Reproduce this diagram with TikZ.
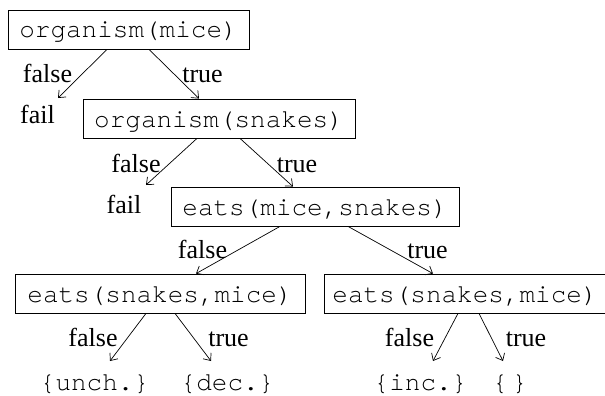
\documentclass[tikz,border=0pt]{standalone}
\usepackage{fontspec}
\setmainfont{Liberation Serif}
\setmonofont{TeX Gyre Cursor}
\usetikzlibrary{arrows.meta}
\begin{document}
\begin{tikzpicture}[x=1pt,y=-1pt,
  box/.style={draw, line width=0.8pt, inner sep=0pt, minimum height=39pt,
    text height=20pt, text depth=3pt, font=\fontsize{26}{30}\selectfont\ttfamily},
  lbl/.style={inner sep=0pt, anchor=base, font=\fontsize{26}{30}\selectfont},
  leaf/.style={inner sep=0pt, anchor=base, font=\fontsize{26}{30}\selectfont\ttfamily},
  arr/.style={-{Straight Barb[length=6pt,width=10pt]}, line width=0.7pt}]
\useasboundingbox (0,0) rectangle (605,396);
% boxes
\node[box, minimum width=241pt] (b1) at (128.5,29.5) {organism(mice)};
\node[box, minimum width=272pt] (b2) at (219,118.5) {organism(snakes)};
\node[box, minimum width=288pt] (b3) at (315,206.5) {eats(mice,snakes)};
\node[box, minimum width=290pt] (b4) at (160,293.5) {eats(snakes,mice)};
\node[box, minimum width=282pt] (b5) at (465,293.5) {eats(snakes,mice)};
% terminal texts
\node[lbl] (fail1) at (37.5,123) {fail};
\node[lbl] (fail2) at (124,213) {fail};
\node[leaf] (unch) at (94.5,390) {\{unch.\}};
\node[leaf] (dec) at (227.5,390) {\{dec.\}};
\node[leaf] (inc) at (420.5,390) {\{inc.\}};
\node[leaf] (empty) at (510,390) {\{\hspace{4pt}\}};
% edge labels
\node[lbl] (l1f) at (47.5,82) {false};
\node[lbl] (l1t) at (202.5,82) {true};
\node[lbl] (l2f) at (136,172) {false};
\node[lbl] (l2t) at (297,172) {true};
\node[lbl] (l3f) at (202.5,258) {false};
\node[lbl] (l3t) at (427.5,258) {true};
\node[lbl] (l4f) at (93,346) {false};
\node[lbl] (l4t) at (228.5,346) {true};
\node[lbl] (l5f) at (409.5,346) {false};
\node[lbl] (l5t) at (526,346) {true};
% free arrow ends
\coordinate (e1f) at (58,98);
\coordinate (e2f) at (146,185);
\coordinate (e4f) at (110,361);
\coordinate (e4t) at (211,361);
\coordinate (e5f) at (433,361);
\coordinate (e5t) at (503,361);
% connectors
\draw[arr] ([xshift=-21.5pt]b1.south) -- (e1f);
\draw[arr] ([xshift=20.5pt]b1.south) -- ([xshift=-20pt]b2.north);
\draw[arr] ([xshift=-22pt]b2.south) -- (e2f);
\draw[arr] ([xshift=21pt]b2.south) -- ([xshift=-22pt]b3.north);
\draw[arr] ([xshift=-35pt]b3.south) -- ([xshift=36pt]b4.north);
\draw[arr] ([xshift=33pt]b3.south) -- ([xshift=-32pt]b5.north);
\draw[arr] ([xshift=-14pt]b4.south) -- (e4f);
\draw[arr] ([xshift=15pt]b4.south) -- (e4t);
\draw[arr] ([xshift=-7pt]b5.south) -- (e5f);
\draw[arr] ([xshift=14pt]b5.south) -- (e5t);
\end{tikzpicture}
\end{document}
